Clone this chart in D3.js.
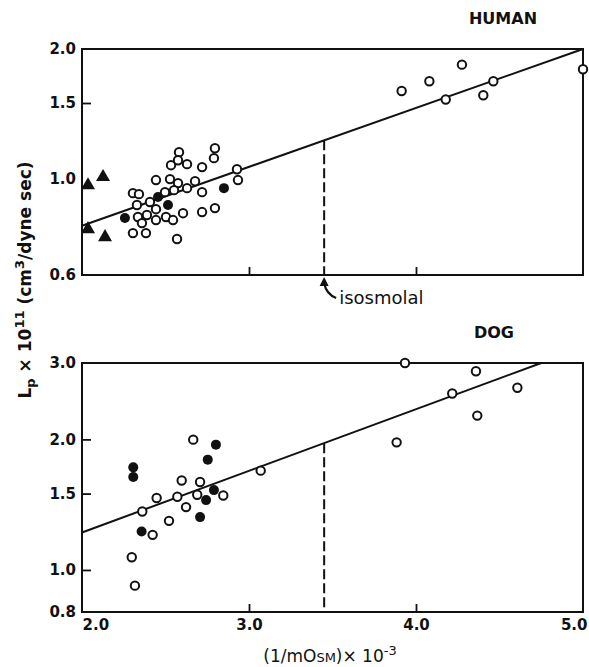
<!DOCTYPE html>
<html>
<head>
<meta charset="utf-8">
<script src="https://cdn.jsdelivr.net/npm/d3@7"></script>
<style>
  html, body { margin: 0; padding: 0; background: #fff; }
  svg text { font-family: "DejaVu Sans", "Liberation Sans", sans-serif; fill: #111; }
</style>
</head>
<body>
<svg id="chart" width="589" height="667"></svg>
<script>
// ---- data: [1/mOsm x 10^-3, Lp x 10^11] ----
const humanOpen = [
  [2.305,0.928],[2.341,0.923],[2.329,0.871],[2.407,0.885],[2.443,0.995],[2.497,0.933],
  [2.533,1.077],[2.581,1.154],[2.575,1.106],[2.629,1.083],[2.719,1.066],[2.796,1.179],
  [2.790,1.118],[2.527,1.000],[2.575,0.979],[2.677,0.989],[2.629,0.953],[2.551,0.943],
  [2.719,0.933],[2.928,1.054],[2.934,0.995],[2.389,0.826],[2.443,0.852],[2.335,0.817],
  [2.443,0.804],[2.503,0.817],[2.545,0.804],[2.605,0.834],[2.719,0.839],[2.796,0.857],
  [2.359,0.791],[2.305,0.750],[2.383,0.750],[2.569,0.727],
  [3.914,1.599],[4.080,1.684],[4.275,1.840],[4.178,1.528],[4.403,1.563],[4.463,1.684],
  [5.000,1.795]
];
const humanFilled = [[2.257,0.813],[2.455,0.909],[2.515,0.871],[2.850,0.953]];
const humanTriangles = [[2.036,0.968],[2.126,1.011],[2.036,0.766],[2.138,0.734]];
const humanFit = [[2.0,0.78],[5.0,2.0]];

const dogOpen = [
  [2.666,1.997],[2.597,1.608],[2.707,1.595],[2.447,1.465],[2.571,1.475],[2.690,1.491],
  [2.623,1.396],[2.846,1.485],[2.361,1.364],[2.521,1.298],[2.423,1.205],[2.298,1.070],
  [2.317,0.920],[3.070,1.694],
  [3.934,3.000],[4.359,2.872],[4.217,2.551],[4.367,2.269],[4.607,2.630],[3.884,1.969]
];
const dogFilled = [
  [2.802,1.945],[2.753,1.796],[2.307,1.724],[2.307,1.638],[2.790,1.528],[2.743,1.449],
  [2.707,1.324],[2.357,1.226]
];
const dogFit = [[2.0,1.22],[4.75,3.0]];

const isosmolalX = 3.45;

const xDomain = [2.0, 5.0];
const xTickLabels = ["2.0", "3.0", "4.0", "5.0"];
const xTickValues = [2, 3, 4, 5];
const humanYDomain = [0.6, 2.0];
const humanYTicks = [0.6, 1.0, 1.5, 2.0];
const humanYMarks = [1.5];
const dogYDomain = [0.8, 3.0];
const dogYTicks = [0.8, 1.0, 1.5, 2.0, 3.0];
const dogYMarks = [1.0, 1.5, 2.0];

// ---- drawing ----
const svg = d3.select("#chart");
const ink = "#111";

const x = d3.scaleLinear().domain(xDomain).range([82, 583]);

function panel(opts) {
  const y = d3.scaleLog().domain(opts.yDomain).range(opts.yRange);
  const g = svg.append("g");
  const [y0, y1] = opts.yRange;

  // tick labels on the left
  const la = d3.axisLeft(y).tickValues(opts.yTicks).tickSize(0).tickPadding(6)
    .tickFormat(d3.format(".1f"));
  const gy = g.append("g").attr("transform", `translate(${x.range()[0]},0)`).call(la);
  gy.select(".domain").remove();
  gy.selectAll("text").style("font-size", "15px").style("font-weight", "bold")
    .style("font-family", "'DejaVu Sans', sans-serif");

  // inward tick marks on the left
  const lm = d3.axisLeft(y).tickValues(opts.yMarks).tickSize(-9).tickFormat("");
  const gm = g.append("g").attr("transform", `translate(${x.range()[0]},0)`).call(lm);
  gm.select(".domain").remove();
  gm.selectAll("line").attr("stroke", ink).attr("stroke-width", 1.8);

  // bottom axis: inward ticks + optional labels
  const bm = d3.axisBottom(x).tickValues([3, 4]).tickSize(-8).tickFormat("");
  const gb = g.append("g").attr("transform", `translate(0,${y0})`).call(bm);
  gb.select(".domain").remove();
  gb.selectAll("line").attr("stroke", ink).attr("stroke-width", 1.8);

  if (opts.xLabels) {
    const bl = d3.axisBottom(x).tickValues(xTickValues).tickSize(0).tickPadding(7)
      .tickFormat((d, i) => xTickLabels[i]);
    const gl = g.append("g").attr("transform", `translate(0,${y0})`).call(bl);
    gl.select(".domain").remove();
    gl.selectAll("text").style("font-size", "15px").style("font-weight", "bold")
      .style("font-family", "'DejaVu Sans', sans-serif");
    gl.selectAll("text").filter(d => d === 2).attr("text-anchor", "start").attr("dx", 0);
    gl.selectAll("text").filter(d => d === 5).attr("text-anchor", "end").attr("dx", 4);
  }

  // frame
  g.append("rect")
    .attr("x", x.range()[0]).attr("y", y1)
    .attr("width", x.range()[1] - x.range()[0]).attr("height", y0 - y1)
    .attr("fill", "none").attr("stroke", ink).attr("stroke-width", 2);

  // regression line
  const line = d3.line().x(d => x(d[0])).y(d => y(d[1]));
  g.append("path").datum(opts.fit).attr("d", line)
    .attr("fill", "none").attr("stroke", ink).attr("stroke-width", 2);

  // isosmolal dashed drop line
  const fy = d3.scaleLinear().domain([opts.fit[0][0], opts.fit[1][0]])
    .range([Math.log(opts.fit[0][1]), Math.log(opts.fit[1][1])]);
  const isoY = Math.exp(fy(isosmolalX));
  g.append("line")
    .attr("x1", x(isosmolalX)).attr("x2", x(isosmolalX))
    .attr("y1", y(isoY)).attr("y2", y(opts.yDomain[0]))
    .attr("stroke", ink).attr("stroke-width", 2).attr("stroke-dasharray", "10,4");

  // open circles
  g.selectAll("circle.open").data(opts.open).join("circle")
    .attr("class", "open")
    .attr("cx", d => x(d[0])).attr("cy", d => y(d[1])).attr("r", 4.2)
    .attr("fill", "#fff").attr("stroke", ink).attr("stroke-width", 2);

  // filled circles
  g.selectAll("circle.filled").data(opts.filled).join("circle")
    .attr("class", "filled")
    .attr("cx", d => x(d[0])).attr("cy", d => y(d[1])).attr("r", 5)
    .attr("fill", ink);

  // triangles
  if (opts.triangles) {
    const tri = d3.symbol().type(d3.symbolTriangle).size(85);
    g.selectAll("path.tri").data(opts.triangles).join("path")
      .attr("class", "tri")
      .attr("transform", d => `translate(${x(d[0])},${y(d[1])})`)
      .attr("d", tri).attr("fill", ink);
  }

  // panel title
  g.append("text").attr("x", opts.titleX).attr("y", opts.titleY)
    .attr("text-anchor", "middle")
    .style("font-size", "16px").style("font-weight", "bold")
    .text(opts.title);

  return { y, isoY };
}

const humanPanel = panel({
  yDomain: humanYDomain, yRange: [275, 49], yTicks: humanYTicks, yMarks: humanYMarks,
  fit: humanFit, open: humanOpen, filled: humanFilled, triangles: humanTriangles,
  title: "HUMAN", titleX: 503, titleY: 24, xLabels: false
});

const dogPanel = panel({
  yDomain: dogYDomain, yRange: [612, 363], yTicks: dogYTicks, yMarks: dogYMarks,
  fit: dogFit, open: dogOpen, filled: dogFilled, triangles: null,
  title: "DOG", titleX: 494, titleY: 338, xLabels: true
});

// "isosmolal" annotation with curved arrow
const ax = x(isosmolalX);
const ay = humanPanel.y(humanYDomain[0]);
svg.append("path")
  .attr("d", `M${ax + 12},${ay + 23} Q${ax + 2},${ay + 19} ${ax},${ay + 8}`)
  .attr("fill", "none").attr("stroke", ink).attr("stroke-width", 2.2);
svg.append("path")
  .attr("d", `M${ax},${ay + 2} L${ax - 4.5},${ay + 11} L${ax + 4.5},${ay + 11} Z`)
  .attr("fill", ink);
svg.append("text").attr("x", ax + 15).attr("y", ay + 29)
  .style("font-size", "18px").text("isosmolal");

// y axis title
const yt = svg.append("text")
  .attr("transform", "translate(31,280) rotate(-90)")
  .attr("text-anchor", "middle")
  .style("font-size", "17px").style("font-weight", "bold");
yt.append("tspan").text("L");
yt.append("tspan").attr("dy", 4).style("font-size", "13px").text("p");
yt.append("tspan").attr("dy", -4).text(" × 10");
yt.append("tspan").attr("dy", -7).style("font-size", "13px").text("11");
yt.append("tspan").attr("dy", 7).text("  (cm");
yt.append("tspan").attr("dy", -7).style("font-size", "13px").text("3");
yt.append("tspan").attr("dy", 7).text("/dyne  sec)");

// x axis title
const xt = svg.append("text")
  .attr("x", 330).attr("y", 662)
  .attr("text-anchor", "middle")
  .style("font-size", "17px");
xt.append("tspan").text("(1/mO");
xt.append("tspan").style("font-size", "13px").text("SM");
xt.append("tspan").text(")× 10");
xt.append("tspan").attr("dy", -7).style("font-size", "13px").text("-3");
</script>
</body>
</html>
